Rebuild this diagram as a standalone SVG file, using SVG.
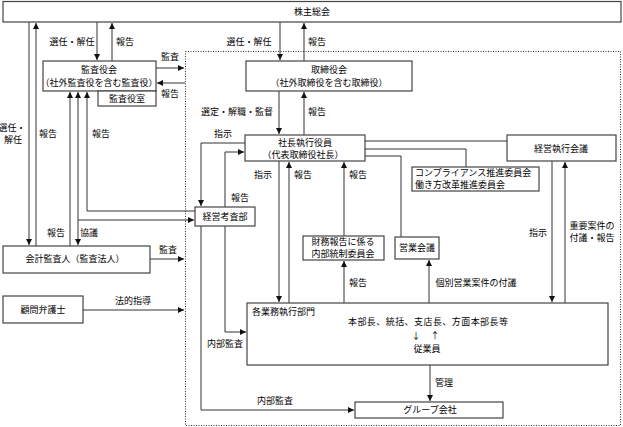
<svg xmlns="http://www.w3.org/2000/svg" width="623" height="427" viewBox="0 0 623 427">
<defs>
<marker id="ah" markerUnits="userSpaceOnUse" markerWidth="7" markerHeight="7" refX="6" refY="3" orient="auto">
<path d="M0,0 L6,3 L0,6 z" fill="#111"/>
</marker>
<style>
.box{fill:#fff;stroke:#444;stroke-width:1.2}
.t{font-family:"Noto Sans CJK JP","Noto Sans",sans-serif;font-size:9px;fill:#000;text-anchor:middle}
.l{text-anchor:start}
.c{fill:none;stroke:#333;stroke-width:1}
.a{marker-end:url(#ah)}
.dot{fill:none;stroke:#333;stroke-width:1;stroke-dasharray:1,1.5}
</style>
</defs>
<rect width="623" height="427" fill="#fff"/>
<rect class="dot" x="185.5" y="51.5" width="435" height="374"/>

<g id="connectors">
<path class="c a" d="M29,22 V245"/>
<path class="c a" d="M36,246 V23"/>
<path class="c a" d="M97,22 V60"/>
<path class="c a" d="M112,61 V23"/>
<path class="c a" d="M156,68 H184"/>
<path class="c a" d="M185,83 H157"/>
<path class="c a" d="M70,246 V92"/>
<path class="c a" d="M78,220 V92"/>
<path class="c a" d="M78,220 V245"/>
<path class="c a" d="M78,220 H194"/>
<path class="c a" d="M195,211 H87 V92"/>
<path class="c a" d="M280,22 V60"/>
<path class="c a" d="M304,61 V23"/>
<path class="c a" d="M279,91 V134"/>
<path class="c a" d="M304,135 V92"/>
<path class="c a" d="M245,143 H201 V206"/>
<path class="c a" d="M225,207 V152 H244"/>
<path class="c a" d="M279,161 V302"/>
<path class="c a" d="M289,303 V162"/>
<path class="c a" d="M344,236 V162"/>
<path class="c a" d="M344,303 V261"/>
<path class="c" d="M365,156 H401 V237"/>
<path class="c a" d="M429,303 V260"/>
<path class="c" d="M365,149 H466 V167"/>
<path class="c" d="M365,141 H507"/>
<path class="c a" d="M552,161 V302"/>
<path class="c a" d="M565,303 V162"/>
<path class="c a" d="M430,365 V401"/>
<path class="c a" d="M201,226 V410 H354"/>
<path class="c a" d="M225,226 V332 H246"/>
<path class="c a" d="M150,259 H184"/>
<path class="c a" d="M83,310 H184"/>
</g>

<g id="labels">
<text class="t" x="12" y="131">選任・</text>
<text class="t" x="13" y="143">解任</text>
<text class="t" x="48" y="137">報告</text>
<text class="t" x="101" y="137">報告</text>
<text class="t" x="72" y="45">選任・解任</text>
<text class="t" x="125" y="45">報告</text>
<text class="t" x="170" y="60">監査</text>
<text class="t" x="170" y="97">報告</text>
<text class="t" x="249" y="45">選任・解任</text>
<text class="t" x="317" y="45">報告</text>
<text class="t" x="237" y="115">選定・解職・監督</text>
<text class="t" x="317" y="115">報告</text>
<text class="t" x="223" y="137">指示</text>
<text class="t" x="263" y="178">指示</text>
<text class="t" x="303" y="178">報告</text>
<text class="t" x="358" y="178">報告</text>
<text class="t" x="240" y="201">報告</text>
<text class="t" x="56" y="236">報告</text>
<text class="t" x="89" y="236">協議</text>
<text class="t" x="168" y="253">監査</text>
<text class="t" x="133" y="304">法的指導</text>
<text class="t" x="538" y="236">指示</text>
<text class="t" x="592" y="229">重要案件の</text>
<text class="t" x="592" y="241">付議・報告</text>
<text class="t" x="358" y="286">報告</text>
<text class="t" x="476" y="286">個別営業案件の付議</text>
<text class="t" x="225" y="347">内部監査</text>
<text class="t" x="275" y="404">内部監査</text>
<text class="t" x="444" y="386">管理</text>
</g>

<g id="kabunushi">
<rect class="box" x="3" y="1.5" width="618" height="20.5"/>
<text class="t" x="312" y="15">株主総会</text>
</g>
<g id="kansayakukai">
<rect class="box" x="43" y="61" width="113" height="30"/>
<text class="t" x="99" y="73">監査役会</text>
<text class="t" x="99" y="86">（社外監査役を含む監査役）</text>
</g>
<g id="kansayakushitsu">
<rect class="box" x="98" y="91" width="58" height="15"/>
<text class="t" x="127" y="102">監査役室</text>
</g>
<g id="torishimariyakukai">
<rect class="box" x="246" y="61" width="166" height="30"/>
<text class="t" x="329" y="73">取締役会</text>
<text class="t" x="329" y="86">（社外取締役を含む取締役）</text>
</g>
<g id="shacho">
<rect class="box" x="245" y="135" width="120" height="26"/>
<text class="t" x="305" y="146">社長執行役員</text>
<text class="t" x="303" y="158">（代表取締役社長）</text>
</g>
<g id="keieikousa">
<rect class="box" x="195" y="207" width="60" height="19"/>
<text class="t" x="225" y="220">経営考査部</text>
</g>
<g id="kaikeikansa">
<rect class="box" x="3" y="246" width="147" height="27"/>
<text class="t" x="75" y="262">会計監査人（監査法人）</text>
</g>
<g id="komon">
<rect class="box" x="3" y="296" width="80" height="27"/>
<text class="t" x="43" y="313">顧問弁護士</text>
</g>
<g id="zaimu">
<rect class="box" x="303" y="236" width="81" height="24"/>
<text class="t" x="343" y="245">財務報告に係る</text>
<text class="t" x="343" y="257">内部統制委員会</text>
</g>
<g id="eigyo">
<rect class="box" x="395" y="237" width="44" height="22"/>
<text class="t" x="417" y="251">営業会議</text>
</g>
<g id="compliance">
<rect class="box" x="412" y="167" width="127" height="24"/>
<text class="t l" x="415" y="176">コンプライアンス推進委員会</text>
<text class="t l" x="415" y="188">働き方改革推進委員会</text>
</g>
<g id="keieishikko">
<rect class="box" x="507" y="135" width="109" height="26"/>
<text class="t" x="561" y="152">経営執行会議</text>
</g>
<g id="kakugyomu">
<rect class="box" x="247" y="303" width="361" height="62"/>
<text class="t l" x="252" y="315">各業務執行部門</text>
<text class="t" x="428" y="325" textLength="160">本部長、統括、支店長、方面本部長等</text>
<text class="t" x="416" y="339">↓</text>
<text class="t" x="435" y="339">↑</text>
<text class="t" x="427" y="352">従業員</text>
</g>
<g id="group">
<rect class="box" x="355" y="402" width="148" height="16"/>
<text class="t" x="430" y="413">グループ会社</text>
</g>
</svg>
